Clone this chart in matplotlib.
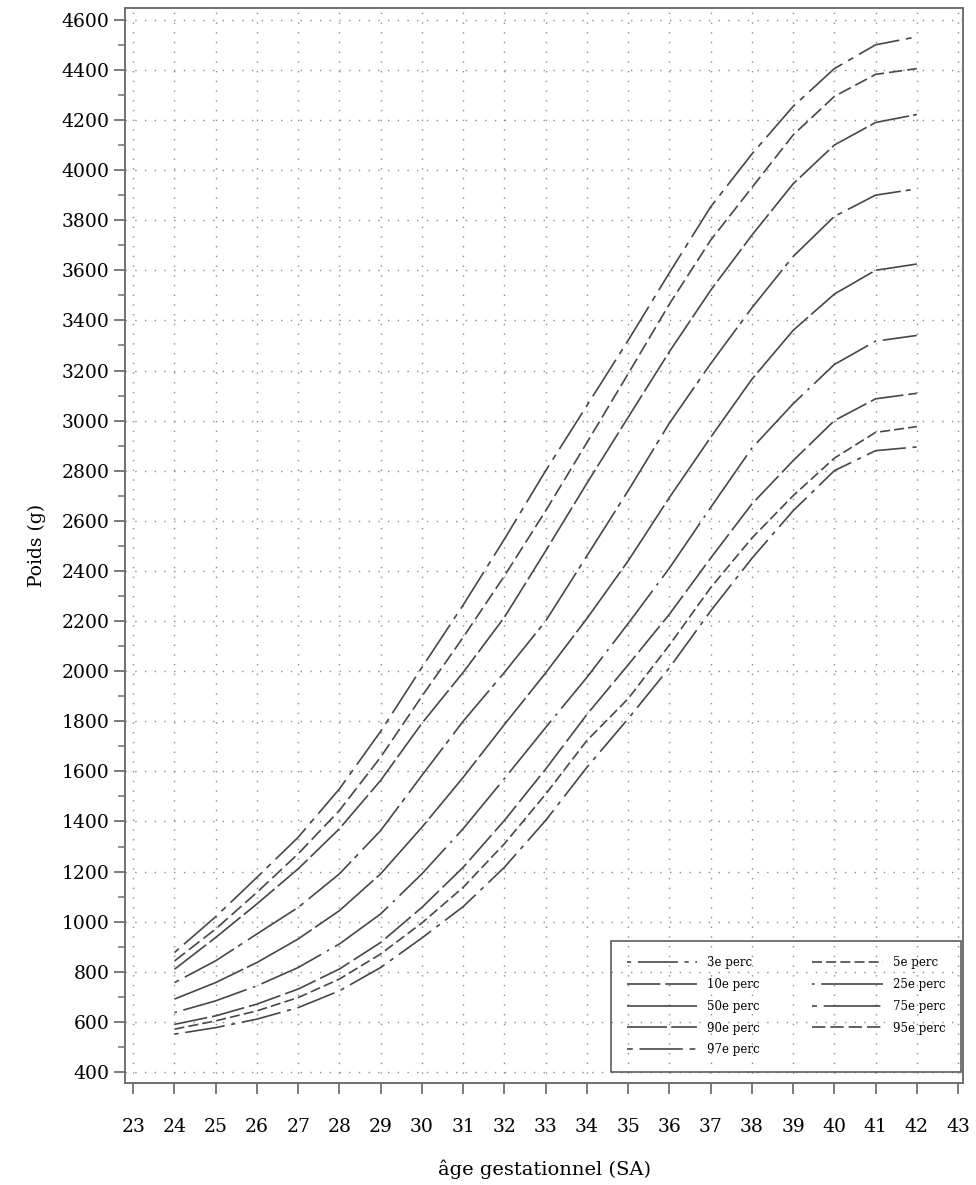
"""
Courbes de poids foetal par percentile selon l'age gestationnel
"""

import matplotlib
matplotlib.use("Agg")
import matplotlib.pyplot as plt
from matplotlib.ticker import MultipleLocator

# age gestationnel (SA)
weeks = list(range(24, 43))

# poids (g), un point par semaine
p3 = [551, 577, 611, 657, 724, 817, 935, 1060, 1217, 1404, 1616, 1810, 2013, 2240, 2450, 2640, 2800, 2880, 2895]
p5 = [571, 604, 644, 697, 771, 871, 995, 1137, 1311, 1509, 1723, 1890, 2104, 2333, 2531, 2700, 2850, 2953, 2976]
p10 = [590, 624, 671, 731, 811, 917, 1057, 1217, 1404, 1609, 1827, 2025, 2227, 2451, 2667, 2840, 3000, 3087, 3109]
p25 = [637, 684, 744, 817, 911, 1031, 1191, 1371, 1571, 1775, 1975, 2190, 2411, 2653, 2890, 3067, 3224, 3317, 3340]
p50 = [691, 757, 837, 931, 1044, 1191, 1377, 1576, 1787, 1993, 2210, 2440, 2693, 2933, 3165, 3360, 3505, 3600, 3625]
p75 = [757, 844, 951, 1057, 1191, 1364, 1584, 1800, 1995, 2200, 2460, 2720, 2990, 3227, 3450, 3655, 3815, 3900, 3925]
p90 = [810, 937, 1071, 1211, 1371, 1564, 1792, 1995, 2215, 2480, 2750, 3013, 3275, 3520, 3740, 3945, 4100, 4190, 4222]
p95 = [843, 971, 1117, 1271, 1444, 1657, 1900, 2135, 2380, 2640, 2912, 3187, 3465, 3720, 3930, 4140, 4294, 4382, 4405]
p97 = [877, 1020, 1177, 1337, 1530, 1760, 2015, 2264, 2527, 2800, 3060, 3320, 3590, 3853, 4064, 4254, 4405, 4500, 4532]

labels = ["3e perc", "5e perc", "10e perc", "25e perc", "50e perc",
          "75e perc", "90e perc", "95e perc", "97e perc"]
series = [p3, p5, p10, p25, p50, p75, p90, p95, p97]

# motif de tirets pour chaque percentile (en points)
dashes = [
    (0, (2.5, 4, 24, 4)),     # 3e
    (0, (6, 2.5)),            # 5e
    (0, (20, 3)),             # 10e
    (0, (1.5, 4, 40, 4)),     # 25e
    (0, (45, 2.5)),           # 50e
    (0, (3, 4, 34, 3)),       # 75e
    (0, (24, 2.5)),           # 90e
    (0, (8, 3)),              # 95e
    (0, (3.5, 4, 26, 4)),     # 97e
]

plt.rcParams["font.family"] = ["DejaVu Serif"]
line_col = "#474747"
axis_col = "#707070"

fig = plt.figure(figsize=(9.76, 11.85), dpi=100)
ax = fig.add_axes([125 / 976, 1 - 1083 / 1185, (963 - 125) / 976, (1083 - 8) / 1185])

handles = {}
for lab, vals, ls in zip(labels, series, dashes):
    (ln,) = ax.plot(weeks, vals, color=line_col, linewidth=1.2, linestyle=ls,
                    label=lab, zorder=3)
    handles[lab] = ln

ax.set_xlim(22.8, 43.12)
ax.set_ylim(356, 4647)
ax.xaxis.set_major_locator(MultipleLocator(1))
ax.yaxis.set_major_locator(MultipleLocator(200))
ax.yaxis.set_minor_locator(MultipleLocator(100))

ax.grid(True, which="major", color="#8a8a8a", linewidth=1.0,
        linestyle=(0, (1, 6)), zorder=0)

for sp in ax.spines.values():
    sp.set_color(axis_col)
    sp.set_linewidth(1.4)

ax.tick_params(axis="both", which="major", direction="out", length=8,
               width=1.3, color=axis_col, labelsize=13.5, labelcolor="black")
ax.tick_params(axis="y", which="minor", direction="out", length=5,
               width=1.1, color=axis_col)
ax.tick_params(axis="x", which="major", pad=17)
ax.tick_params(axis="y", which="major", pad=3)

ax.set_xlabel("âge gestationnel (SA)", fontsize=14, labelpad=17)
ax.set_ylabel("Poids (g)", fontsize=13.5, labelpad=11)

# ordre ligne par ligne comme dans la legende d'origine
order = ["3e perc", "10e perc", "50e perc", "90e perc", "97e perc",
         "5e perc", "25e perc", "75e perc", "95e perc"]
leg = ax.legend([handles[k] for k in order], order, ncol=2,
                loc="lower right", bbox_to_anchor=(0.9975, 0.0105),
                borderaxespad=0, fontsize=8.5, handlelength=6.0,
                handletextpad=0.85, columnspacing=4.4, labelspacing=0.75,
                borderpad=1.3, fancybox=False, edgecolor="#505050")
frame = leg.get_frame()
frame.set_facecolor("none")
frame.set_alpha(None)
frame.set_linewidth(1.1)

fig.savefig("out.png", dpi=100)
